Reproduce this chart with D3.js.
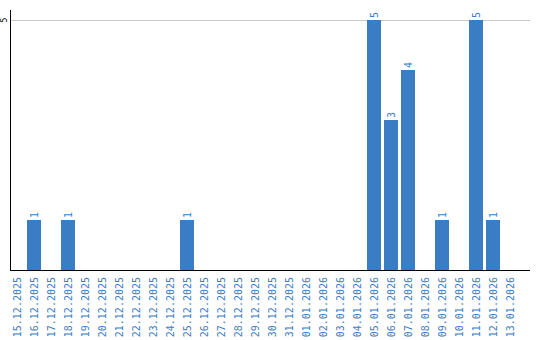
<!DOCTYPE html>
<meta charset="utf-8">
<style>
  body { margin: 0; background: #fff; }
  .lbl { font-family: "DejaVu Sans Mono", monospace; font-size: 10px; fill: #3b7dc4; }
</style>
<body>
<script src="https://d3js.org/d3.v7.min.js"></script>
<div id="chart"></div>
<script>
// dates shown on the x axis
var dates = ["15.12.2025","16.12.2025","17.12.2025","18.12.2025","19.12.2025","20.12.2025",
  "21.12.2025","22.12.2025","23.12.2025","24.12.2025","25.12.2025","26.12.2025","27.12.2025",
  "28.12.2025","29.12.2025","30.12.2025","31.12.2025","01.01.2026","02.01.2026","03.01.2026",
  "04.01.2026","05.01.2026","06.01.2026","07.01.2026","08.01.2026","09.01.2026","10.01.2026",
  "11.01.2026","12.01.2026","13.01.2026"];
var counts = [0,1,0,1,0,0,0,0,0,0,1,0,0,0,0,0,0,0,0,0,0,5,3,4,0,1,0,5,1,0];
var yTicks = [5];

var width = 540, height = 340;
var svg = d3.select("#chart").append("svg")
    .attr("width", width)
    .attr("height", height);

var x = d3.scaleBand().domain(dates).range([8.5, 518.5]).paddingInner(0.176).paddingOuter(0.088);
var y = d3.scaleLinear().domain([0, 5.2]).range([270, 10]);

// gridlines
svg.append("g")
  .selectAll("line")
  .data(yTicks)
  .enter().append("line")
    .attr("x1", 10).attr("x2", 530)
    .attr("y1", function(d) { return Math.round(y(d)) + 0.5; })
    .attr("y2", function(d) { return Math.round(y(d)) + 0.5; })
    .attr("stroke", "#c8c8c8");

// y tick labels
svg.append("g")
  .selectAll("text")
  .data(yTicks)
  .enter().append("text")
    .attr("transform", function(d) { return "translate(7," + y(d) + ") rotate(-90)"; })
    .attr("text-anchor", "middle")
    .style("font-family", "DejaVu Sans Mono, monospace")
    .style("font-size", "8px")
    .style("fill", "#000")
    .text(function(d) { return d; });

var data = dates.map(function(d, i) { return {date: d, value: counts[i]}; });

// bars
svg.append("g")
  .selectAll("rect")
  .data(data.filter(function(d) { return d.value > 0; }))
  .enter().append("rect")
    .attr("x", function(d) { return x(d.date); })
    .attr("y", function(d) { return y(d.value); })
    .attr("width", x.bandwidth())
    .attr("height", function(d) { return y(0) - y(d.value); })
    .attr("fill", "#3b7dc4");

// value labels
svg.append("g")
  .selectAll("text")
  .data(data.filter(function(d) { return d.value > 0; }))
  .enter().append("text")
    .attr("class", "lbl")
    .attr("transform", function(d) {
      return "translate(" + (x(d.date) + x.bandwidth() / 2 + 3.5) + "," + (y(d.value) - 2) + ") rotate(-90)";
    })
    .attr("text-anchor", "start")
    .text(function(d) { return d.value; });

// axis lines
svg.append("line")
  .attr("x1", 10.5).attr("x2", 10.5).attr("y1", 10).attr("y2", 270)
  .attr("stroke", "#000");
svg.append("line")
  .attr("x1", 10).attr("x2", 530).attr("y1", 270.5).attr("y2", 270.5)
  .attr("stroke", "#000");

// date labels
svg.append("g")
  .selectAll("text")
  .data(dates)
  .enter().append("text")
    .attr("class", "lbl")
    .attr("transform", function(d) {
      return "translate(" + (x(d) + x.bandwidth() / 2 + 3.5) + ",277) rotate(-90)";
    })
    .attr("text-anchor", "end")
    .text(function(d) { return d; });
</script>
</body>
